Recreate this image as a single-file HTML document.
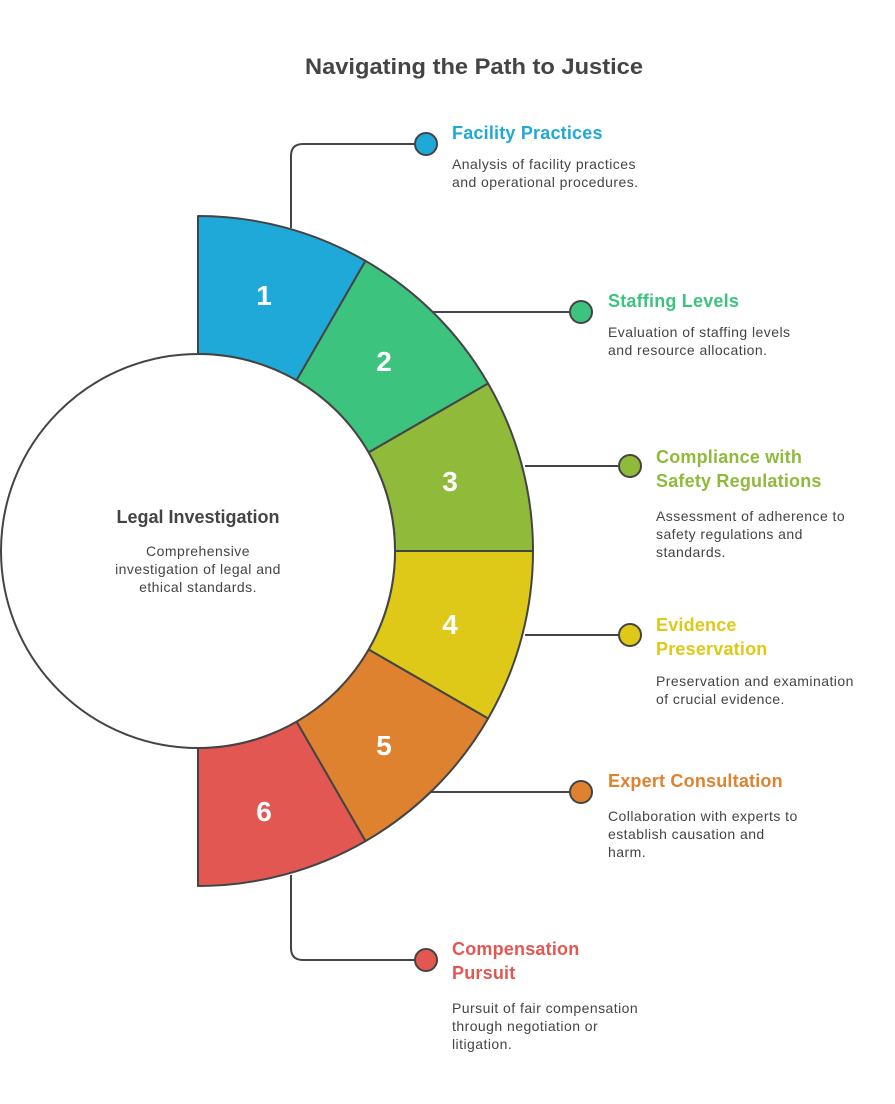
<!DOCTYPE html>
<html><head><meta charset="utf-8"><style>
html,body{margin:0;padding:0;background:#fff;}
svg{display:block;font-family:"Liberation Sans",Arial,sans-serif;}
.t{font-weight:bold;font-size:18px;letter-spacing:0.2px;}
.d{font-size:14px;fill:#444;letter-spacing:0.45px;}
.n{font-weight:bold;font-size:28px;fill:#fff;text-anchor:middle;}
</style></head><body>
<svg width="895" height="1104" viewBox="0 0 895 1104">
<text x="305" y="74" textLength="338" lengthAdjust="spacingAndGlyphs" font-size="22" font-weight="bold" fill="#444">Navigating the Path to Justice</text>
<g stroke="#444" stroke-width="2" fill="none">
<path d="M291 228 V156 Q291 144 303 144 H414"/>
<path d="M430 312 H569"/>
<path d="M525 466 H618"/>
<path d="M525 635 H618"/>
<path d="M430 792 H569"/>
<path d="M291 875 V948 Q291 960 303 960 H414"/>
</g>
<g stroke="#444" stroke-width="2" stroke-linejoin="round">
<path fill="#1fa9d9" d="M198 216 A335 335 0 0 1 365.5 260.9 L296.5 380.4 A197 197 0 0 0 198 354 Z"/>
<path fill="#3cc47f" d="M365.5 260.9 A335 335 0 0 1 488.1 383.5 L368.6 452.5 A197 197 0 0 0 296.5 380.4 Z"/>
<path fill="#8fba3a" d="M488.1 383.5 A335 335 0 0 1 533 551 L395 551 A197 197 0 0 0 368.6 452.5 Z"/>
<path fill="#dfc918" d="M533 551 A335 335 0 0 1 488.1 718.5 L368.6 649.5 A197 197 0 0 0 395 551 Z"/>
<path fill="#df8230" d="M488.1 718.5 A335 335 0 0 1 365.5 841.1 L296.5 721.6 A197 197 0 0 0 368.6 649.5 Z"/>
<path fill="#e35752" d="M365.5 841.1 A335 335 0 0 1 198 886 L198 748 A197 197 0 0 0 296.5 721.6 Z"/>
<circle cx="198" cy="551" r="197" fill="#fff"/>
<circle cx="426" cy="144" r="11" fill="#1fa9d9"/>
<circle cx="581" cy="312" r="11" fill="#3cc47f"/>
<circle cx="630" cy="466" r="11" fill="#8fba3a"/>
<circle cx="630" cy="635" r="11" fill="#dfc918"/>
<circle cx="581" cy="792" r="11" fill="#df8230"/>
<circle cx="426" cy="960" r="11" fill="#e35752"/>
</g>
<text class="n" x="264" y="305">1</text>
<text class="n" x="384" y="371">2</text>
<text class="n" x="450" y="491">3</text>
<text class="n" x="450" y="634">4</text>
<text class="n" x="384" y="755">5</text>
<text class="n" x="264" y="821">6</text>
<text x="198" y="523" text-anchor="middle" font-size="18" font-weight="bold" fill="#444">Legal Investigation</text>
<text class="d" text-anchor="middle"><tspan x="198" y="556">Comprehensive</tspan><tspan x="198" y="574">investigation of legal and</tspan><tspan x="198" y="592">ethical standards.</tspan></text>

<text class="t" x="452" y="139" fill="#1fa9d9">Facility Practices</text>
<text class="d"><tspan x="452" y="169">Analysis of facility practices</tspan><tspan x="452" y="187">and operational procedures.</tspan></text>

<text class="t" x="608" y="307" fill="#3cc47f">Staffing Levels</text>
<text class="d"><tspan x="608" y="337">Evaluation of staffing levels</tspan><tspan x="608" y="355">and resource allocation.</tspan></text>

<text class="t" fill="#8fba3a"><tspan x="656" y="463">Compliance with</tspan><tspan x="656" y="487">Safety Regulations</tspan></text>
<text class="d"><tspan x="656" y="521">Assessment of adherence to</tspan><tspan x="656" y="539">safety regulations and</tspan><tspan x="656" y="557">standards.</tspan></text>

<text class="t" fill="#dfc918"><tspan x="656" y="631">Evidence</tspan><tspan x="656" y="655">Preservation</tspan></text>
<text class="d"><tspan x="656" y="686">Preservation and examination</tspan><tspan x="656" y="704">of crucial evidence.</tspan></text>

<text class="t" x="608" y="787" fill="#df8230">Expert Consultation</text>
<text class="d"><tspan x="608" y="821">Collaboration with experts to</tspan><tspan x="608" y="839">establish causation and</tspan><tspan x="608" y="857">harm.</tspan></text>

<text class="t" fill="#e35752"><tspan x="452" y="955">Compensation</tspan><tspan x="452" y="979">Pursuit</tspan></text>
<text class="d"><tspan x="452" y="1013">Pursuit of fair compensation</tspan><tspan x="452" y="1031">through negotiation or</tspan><tspan x="452" y="1049">litigation.</tspan></text>
</svg>
</body></html>
